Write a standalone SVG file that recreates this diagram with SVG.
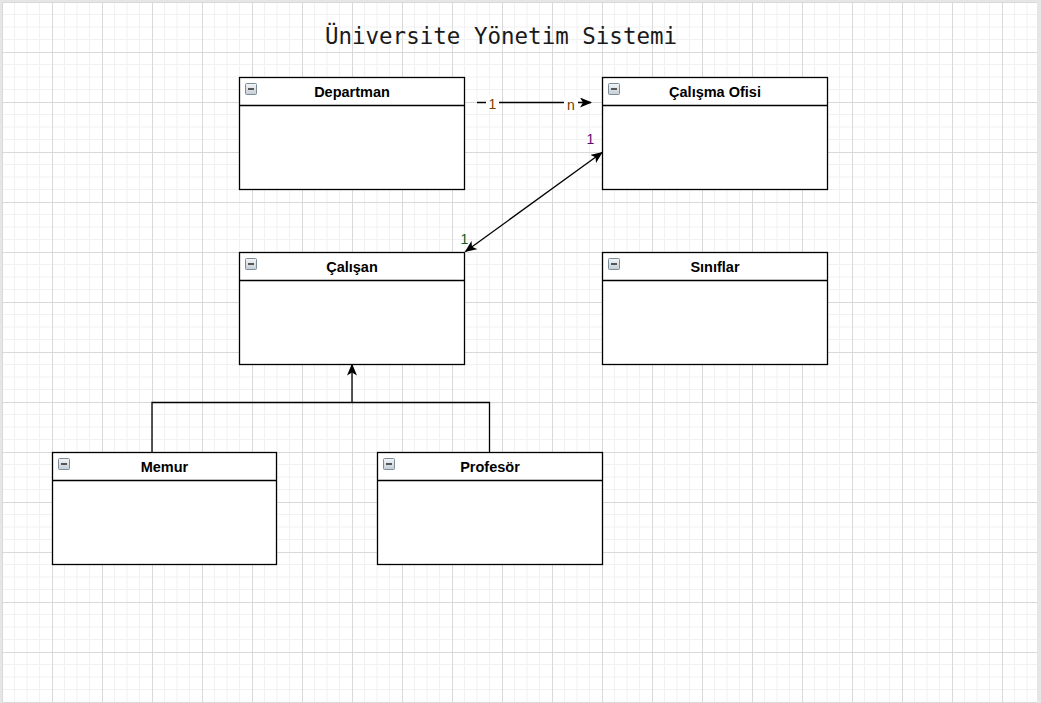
<svg xmlns="http://www.w3.org/2000/svg" width="1041" height="703" viewBox="0 0 1041 703">
<style>
.box{fill:#fff;stroke:#000;stroke-width:1.3}
.hdr{fill:none;stroke:#000;stroke-width:1.3}
.ttl{font-family:"Liberation Sans",Arial,sans-serif;font-weight:bold;font-size:14.5px;text-anchor:middle;fill:#000}
.ico{fill:url(#icog);stroke:#7d8c99;stroke-width:1}
.icm{stroke:#333;stroke-width:1.6}
.con{fill:none;stroke:#000;stroke-width:1.3}
.lbl{font-family:"Liberation Sans",Arial,sans-serif;font-size:14px;text-anchor:middle}
</style>
<defs>
<pattern id="grid" patternUnits="userSpaceOnUse" x="2" y="2" width="50" height="50">
<rect width="50" height="50" fill="#fff"/>
<path d="M12.5 0V50M25 0V50M37.5 0V50M0 12.5H50M0 25H50M0 37.5H50" stroke="#f1f1f1" stroke-width="1"/>
<path d="M0.5 0V50M0 0.5H50" stroke="#d9d9d9" stroke-width="1"/>
</pattern>
<linearGradient id="icog" x1="0" y1="0" x2="0" y2="1">
<stop offset="0" stop-color="#f4f6f8"/>
<stop offset="1" stop-color="#c4ccd5"/>
</linearGradient>
<marker id="arr" viewBox="0 0 12 10" refX="11" refY="5" markerWidth="12" markerHeight="10" markerUnits="userSpaceOnUse" orient="auto-start-reverse">
<path d="M0 0L12 5L0 10L3 5Z" fill="#000"/>
</marker>
</defs>
<rect width="1041" height="703" fill="#e6e6e6"/>
<rect x="2" y="2" width="1035" height="701" fill="url(#grid)"/>
<text x="501" y="44" font-family="'DejaVu Sans Mono','Liberation Mono',monospace" font-size="22.5" text-anchor="middle" fill="#1a1a1a">Üniversite Yönetim Sistemi</text>

<g id="connectors">
<line class="con" x1="477" y1="102.5" x2="591" y2="102.5" marker-end="url(#arr)"/>
<rect x="486" y="95" width="13" height="15" fill="#fff"/>
<text class="lbl" x="492.5" y="108.5" fill="#7a4200">1</text>
<rect x="564" y="97" width="14" height="14" fill="#fff"/>
<text class="lbl" x="571" y="110" fill="#6e3a00">n</text>
<line class="con" x1="465.5" y1="251.5" x2="602" y2="152.5" marker-start="url(#arr)" marker-end="url(#arr)"/>
<text class="lbl" x="590.5" y="144" fill="#5c0a70">1</text>
<text class="lbl" x="464.5" y="244" fill="#0a5e1e">1</text>
<polyline class="con" points="152,452.5 152,402.5 489.5,402.5 489.5,452.5"/>
<line class="con" x1="352" y1="402.5" x2="352" y2="364.5" marker-end="url(#arr)"/>
</g>

<g id="departman">
<rect class="box" x="239.5" y="77.5" width="225" height="112"/>
<line class="hdr" x1="239.5" y1="105.5" x2="464.5" y2="105.5"/>
<rect class="ico" x="245.5" y="83.5" width="11" height="11" rx="1"/>
<line class="icm" x1="248" y1="89" x2="254" y2="89"/>
<text class="ttl" x="352" y="96.5">Departman</text>
</g>

<g id="calisma-ofisi">
<rect class="box" x="602.5" y="77.5" width="225" height="112"/>
<line class="hdr" x1="602.5" y1="105.5" x2="827.5" y2="105.5"/>
<rect class="ico" x="608.5" y="83.5" width="11" height="11" rx="1"/>
<line class="icm" x1="611" y1="89" x2="617" y2="89"/>
<text class="ttl" x="715" y="96.5">Çalışma Ofisi</text>
</g>

<g id="calisan">
<rect class="box" x="239.5" y="252.5" width="225" height="112"/>
<line class="hdr" x1="239.5" y1="280.5" x2="464.5" y2="280.5"/>
<rect class="ico" x="245.5" y="258.5" width="11" height="11" rx="1"/>
<line class="icm" x1="248" y1="264" x2="254" y2="264"/>
<text class="ttl" x="352" y="271.5">Çalışan</text>
</g>

<g id="siniflar">
<rect class="box" x="602.5" y="252.5" width="225" height="112"/>
<line class="hdr" x1="602.5" y1="280.5" x2="827.5" y2="280.5"/>
<rect class="ico" x="608.5" y="258.5" width="11" height="11" rx="1"/>
<line class="icm" x1="611" y1="264" x2="617" y2="264"/>
<text class="ttl" x="715" y="271.5">Sınıflar</text>
</g>

<g id="memur">
<rect class="box" x="52.5" y="452.5" width="224" height="112"/>
<line class="hdr" x1="52.5" y1="480.5" x2="276.5" y2="480.5"/>
<rect class="ico" x="58.5" y="458.5" width="11" height="11" rx="1"/>
<line class="icm" x1="61" y1="464" x2="67" y2="464"/>
<text class="ttl" x="164.5" y="471.5">Memur</text>
</g>

<g id="profesor">
<rect class="box" x="377.5" y="452.5" width="225" height="112"/>
<line class="hdr" x1="377.5" y1="480.5" x2="602.5" y2="480.5"/>
<rect class="ico" x="383.5" y="458.5" width="11" height="11" rx="1"/>
<line class="icm" x1="386" y1="464" x2="392" y2="464"/>
<text class="ttl" x="490" y="471.5">Profesör</text>
</g>
</svg>
